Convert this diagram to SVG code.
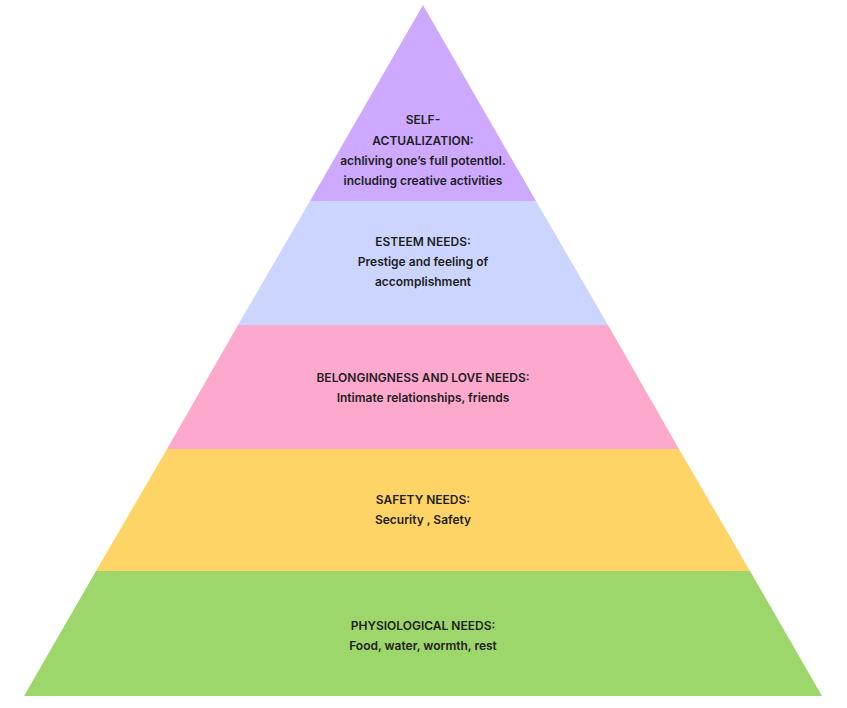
<svg xmlns="http://www.w3.org/2000/svg" width="847" height="708" viewBox="0 0 847 708">
<style>
text{font-family:Inter,"Liberation Sans",sans-serif;font-size:12px;font-weight:600;fill:#1e1e1e;text-anchor:middle}
</style>
<rect width="847" height="708" fill="#fff"/>
<g id="self"><polygon points="423,5 536,201 310,201" fill="#cdaaff"/>
<text x="423" y="124">SELF-</text><text x="423" y="145">ACTUALIZATION:</text><text x="423" y="165">achliving one’s full potentlol.</text><text x="423" y="185">including creative activities</text></g>
<g id="esteem"><polygon points="310,201 536,201 608,325 238,325" fill="#ccd5ff"/>
<text x="423" y="246">ESTEEM NEEDS:</text><text x="423" y="266">Prestige and feeling of</text><text x="423" y="286">accomplishment</text></g>
<g id="love"><polygon points="238,325 608,325 679,449 167,449" fill="#fda9ce"/>
<text x="423" y="382">BELONGINGNESS AND LOVE NEEDS:</text><text x="423" y="402">Intimate relationships, friends</text></g>
<g id="safety"><polygon points="167,449 679,449 750,571 96,571" fill="#fed466"/>
<text x="423" y="504">SAFETY NEEDS:</text><text x="423" y="524">Security , Safety</text></g>
<g id="phys"><polygon points="96,571 750,571 822,696 24,696" fill="#9dd66a"/>
<text x="423" y="630">PHYSIOLOGICAL NEEDS:</text><text x="423" y="650">Food, water, wormth, rest</text></g>
<g id="connectors"/>
</svg>
